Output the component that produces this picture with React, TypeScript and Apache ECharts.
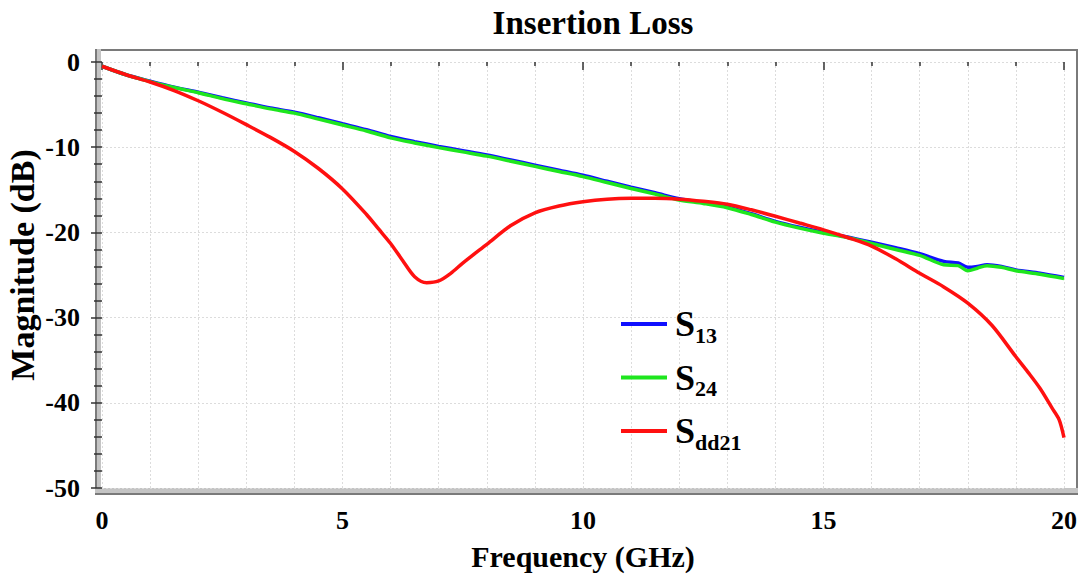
import React, { useEffect, useRef } from "react";
import * as echarts from "echarts";

const FONT = "'Liberation Serif', 'Times New Roman', serif";

const freqS = [0, 0.5, 1, 1.5, 2, 2.5, 3, 3.5, 4, 4.5, 5, 5.5, 6, 6.5, 7, 7.5, 8, 8.5, 9, 9.5, 10, 10.5, 11, 11.5, 12, 12.5, 13, 13.5, 14, 14.5, 15, 15.5, 16, 16.5, 17, 17.5, 17.8, 18, 18.2, 18.4, 18.7, 19, 19.5, 20];

const s13 = [-0.5, -1.5, -2.25, -2.95, -3.55, -4.2, -4.8, -5.4, -5.9, -6.55, -7.25, -7.95, -8.75, -9.35, -9.9, -10.4, -10.9, -11.5, -12.1, -12.7, -13.3, -14.0, -14.7, -15.35, -16.05, -16.5, -17.0, -17.8, -18.7, -19.4, -20.0, -20.55, -21.15, -21.8, -22.5, -23.4, -23.6, -24.1, -24.0, -23.8, -24.0, -24.4, -24.8, -25.3];

const s24 = [-0.5, -1.5, -2.3, -3.0, -3.6, -4.3, -4.9, -5.5, -6.0, -6.7, -7.4, -8.1, -8.9, -9.5, -10.05, -10.55, -11.05, -11.65, -12.25, -12.85, -13.45, -14.15, -14.85, -15.5, -16.2, -16.6, -17.1, -17.9, -18.8, -19.5, -20.1, -20.6, -21.3, -22.0, -22.7, -23.8, -23.9, -24.5, -24.2, -23.9, -24.1, -24.5, -24.9, -25.4];

const freqD = [0, 0.5, 1, 1.5, 2, 2.5, 3, 3.5, 4, 4.5, 5, 5.5, 5.75, 6, 6.25, 6.5, 6.75, 7, 7.25, 7.5, 8, 8.5, 9, 9.5, 10, 10.5, 11, 11.5, 12, 12.5, 13, 13.5, 14, 14.5, 15, 15.5, 16, 16.5, 17, 17.5, 18, 18.5, 19, 19.25, 19.5, 19.75, 19.9, 20];

const sdd21 = [-0.5, -1.5, -2.35, -3.35, -4.55, -5.9, -7.35, -8.85, -10.5, -12.5, -14.9, -17.9, -19.6, -21.3, -23.3, -25.2, -25.9, -25.7, -24.8, -23.6, -21.4, -19.2, -17.7, -16.9, -16.4, -16.1, -16.0, -16.0, -16.1, -16.35, -16.7, -17.35, -18.1, -18.9, -19.7, -20.6, -21.6, -23.1, -24.8, -26.4, -28.3, -30.9, -34.6, -36.4, -38.3, -40.6, -42.0, -44.1];

const seriesNames = ["S13", "S24", "Sdd21"];
const seriesColors = ["#1010ff", "#1ee61e", "#ff1010"];
const xTicks = { min: 0, max: 20, interval: 5 };
const yTicks = { min: -50, max: 0, interval: 10 };

const pairs = (xs: number[], ys: number[]) => xs.map((x, i) => [x, ys[i]]);

export default function App() {
  const ref = useRef<HTMLDivElement>(null);
  useEffect(() => {
    if (!ref.current) return;
    const chart = echarts.init(ref.current, null, { renderer: "svg" });
    const gridLine = { show: true, lineStyle: { color: "#dcdcdc", type: [2, 2] as any, width: 1 } };
    chart.setOption({
      animation: false,
      backgroundColor: "#ffffff",
      title: {
        text: "Insertion Loss",
        left: 588,
        top: 1,
        textAlign: "center",
        textStyle: { fontFamily: FONT, fontWeight: "bold", fontSize: 33, color: "#000" },
      },
      grid: { left: 102, right: 17, top: 62, bottom: 91, containLabel: false, outerBoundsMode: "none" },
      legend: {
        orient: "vertical",
        left: 621,
        top: 306,
        padding: 0,
        itemWidth: 46,
        itemHeight: 4,
        itemGap: 13.5,
        icon: "rect",
        data: seriesNames,
        formatter: (name: string) => `{s|S}{sub|${name.slice(1)}}`,
        textStyle: {
          rich: {
            s: { fontFamily: FONT, fontWeight: "bold", fontSize: 36, color: "#000", lineHeight: 44, padding: [0, 0, 0, 3] },
            sub: { fontFamily: FONT, fontWeight: "bold", fontSize: 22, color: "#000", lineHeight: 16, verticalAlign: "bottom" },
          },
        },
      },
      xAxis: {
        type: "value",
        min: xTicks.min,
        max: xTicks.max,
        interval: xTicks.interval,
        offset: 6,
        name: "Frequency (GHz)",
        nameLocation: "middle",
        nameGap: 47,
        nameMoveOverlap: false,
        nameTextStyle: { fontFamily: FONT, fontWeight: "bold", fontSize: 30, color: "#000" },
        axisLine: { show: false },
        axisTick: { show: true, length: 8, lineStyle: { color: "#333", width: 1.5 } },
        minorTick: { show: true, splitNumber: 5, length: 4, lineStyle: { color: "#333", width: 1.5 } },
        axisLabel: { fontFamily: FONT, fontWeight: "bold", fontSize: 26, color: "#000", margin: 13 },
        splitLine: gridLine,
        minorSplitLine: gridLine,
      },
      yAxis: {
        type: "value",
        min: yTicks.min,
        max: yTicks.max,
        interval: yTicks.interval,
        offset: 5,
        name: "Magnitude (dB)",
        nameLocation: "middle",
        nameGap: 58,
        nameRotate: 90,
        nameMoveOverlap: false,
        nameTextStyle: { fontFamily: FONT, fontWeight: "bold", fontSize: 34, color: "#000", padding: [0, 0, 0, 20] },
        axisLine: { show: false },
        axisTick: { show: true, length: 11, lineStyle: { color: "#333", width: 1.5 } },
        minorTick: { show: true, splitNumber: 5, length: 8, lineStyle: { color: "#333", width: 1.5 } },
        axisLabel: { fontFamily: FONT, fontWeight: "bold", fontSize: 26, color: "#000", margin: 17 },
        splitLine: gridLine,
        minorSplitLine: { show: false },
      },
      graphic: [
        { type: "rect", shape: { x: 97, y: 49, width: 981, height: 2 }, style: { fill: "#7a7a7a" }, silent: true },
        { type: "rect", shape: { x: 1076, y: 49, width: 2, height: 446 }, style: { fill: "#7a7a7a" }, silent: true },
        { type: "rect", shape: { x: 97, y: 49, width: 4, height: 446 }, style: { fill: "#c4c4c4" }, silent: true },
        { type: "rect", shape: { x: 95, y: 49, width: 2, height: 446 }, style: { fill: "#7a7a7a" }, silent: true },
        { type: "rect", shape: { x: 95, y: 488, width: 983, height: 6 }, style: { fill: "#c4c4c4" }, silent: true },
        { type: "rect", shape: { x: 95, y: 493, width: 983, height: 2 }, style: { fill: "#7a7a7a" }, silent: true },
      ],
      series: [
        { name: seriesNames[0], type: "line", data: pairs(freqS, s13), showSymbol: false, smooth: 0.3, color: seriesColors[0], lineStyle: { width: 3.5, color: seriesColors[0] }, z: 3 },
        { name: seriesNames[1], type: "line", data: pairs(freqS, s24), showSymbol: false, smooth: 0.3, color: seriesColors[1], lineStyle: { width: 3.5, color: seriesColors[1] }, z: 4 },
        { name: seriesNames[2], type: "line", data: pairs(freqD, sdd21), showSymbol: false, smooth: 0.3, color: seriesColors[2], lineStyle: { width: 3.5, color: seriesColors[2] }, z: 5 },
      ],
    });
    return () => chart.dispose();
  }, []);
  return <div ref={ref} style={{ position: "fixed", left: 0, top: 0, width: 1081, height: 579, background: "#fff" }} />;
}
